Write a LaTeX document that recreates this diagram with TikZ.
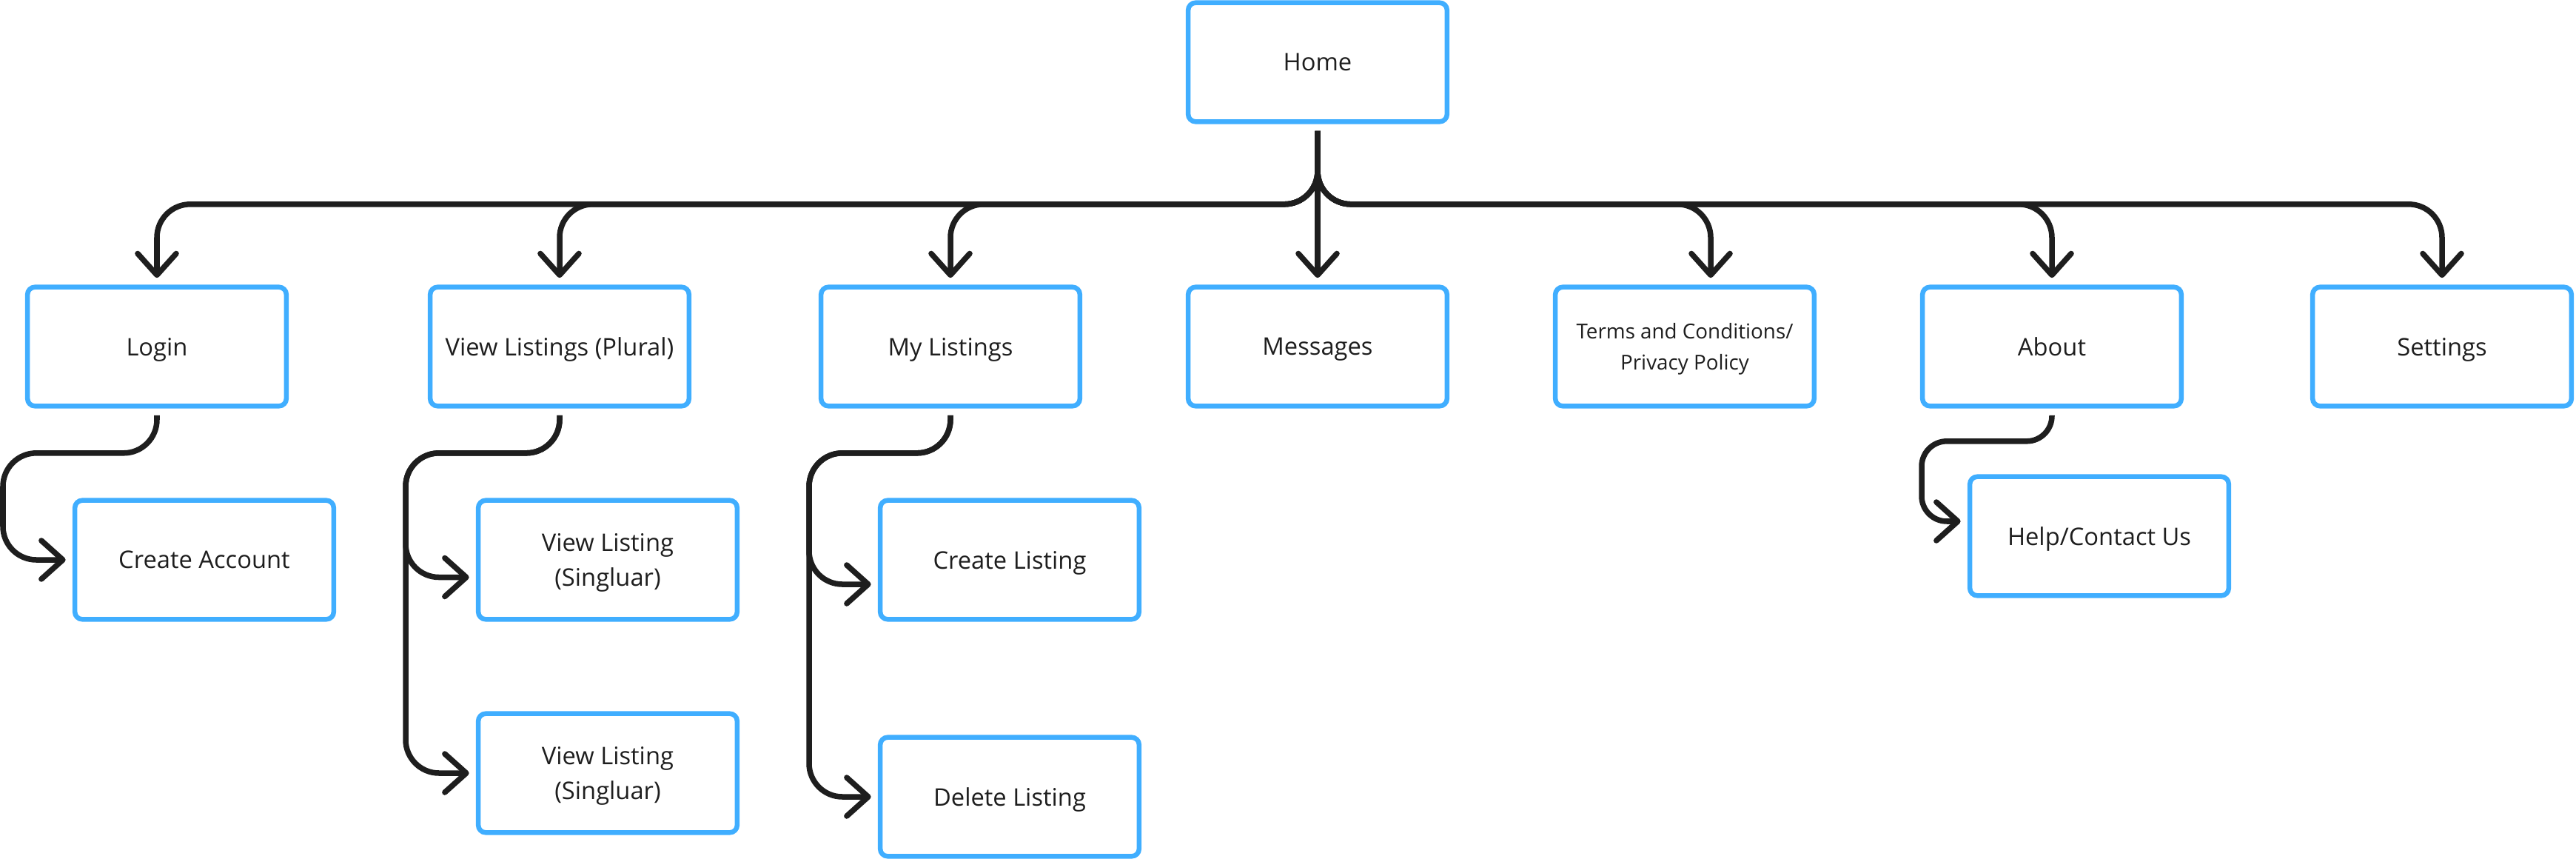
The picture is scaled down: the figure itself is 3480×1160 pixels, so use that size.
\documentclass[tikz,border=0pt]{standalone}
\usepackage{fontspec}
\setmainfont{Open Sans}
\usetikzlibrary{arrows.meta}
\definecolor{boxblue}{HTML}{40AEFF}
\definecolor{ink}{HTML}{1E1E1E}
\tikzset{
    page/.style={draw=boxblue,line width=.065cm,rounded corners=.1cm,minimum width=3.495cm,minimum height=1.605cm,
        inner sep=0pt,outer sep=.125cm,align=center,text=ink,text depth=0pt,font=\fontsize{9.3}{13.5}\selectfont},
    link/.style={draw=ink,line width=.075cm,rounded corners=.45cm,-{Straight Barb[length=.29cm,width=.52cm,round]}},
}
\begin{document}
\begin{tikzpicture}[x=0.01cm,y=-0.01cm]
            \useasboundingbox (0,0) rectangle (3480,1160);
            % Pages
            \node [page] (home) at (1780,84) {Home};
            \node [page] (login) at (212,468) {Login};
            \node [page] (viewall) at (756,468) {View Listings (Plural)};
            \node [page] (mylist) at (1284,468) {My Listings};
            \node [page] (msgs) at (1780,468) {Messages};
            \node [page,font=\fontsize{7.9}{11.8}\selectfont] (terms) at (2276,468) {Terms and Conditions/\\Privacy Policy};
            \node [page] (about) at (2772,468) {About};
            \node [page] (settings) at (3299,468) {Settings};
            \node [page] (newacc) at (276,756) {Create Account};
            \node [page] (view1) at (821,756) {View Listing\\(Singluar)};
            \node [page] (view2) at (821,1044) {View Listing\\(Singluar)};
            \node [page] (newlist) at (1364,756) {Create Listing};
            \node [page] (dellist) at (1364,1076) {Delete Listing};
            \node [page] (help) at (2836,724) {Help/Contact Us};

            % Links from home
            \draw [link] (home.south) -- ++(0,99) -| (login.north);
            \draw [link] (home.south) -- ++(0,99) -| (viewall.north);
            \draw [link] (home.south) -- ++(0,99) -| (mylist.north);
            \draw [link] (home.south) -- (msgs.north);
            \draw [link] (home.south) -- ++(0,99) -| ([xshift=.35cm]terms.north);
            \draw [link] (home.south) -- ++(0,99) -| (about.north);
            \draw [link] (home.south) -- ++(0,99) -| (settings.north);

            % Sub pages
            \draw [link] (login.south) |- ++(-208,51) |- (newacc.west);
            \draw [link] (viewall.south) |- ++(-208,51) |- ([yshift=-.235cm]view1.west);
            \draw [link] (viewall.south) |- ++(-208,51) |- (view2.west);
            \draw [link] (mylist.south) |- ++(-191,51) |- ([yshift=-.33cm]newlist.west);
            \draw [link] (mylist.south) |- ++(-191,51) |- (dellist.west);
            \draw [link,rounded corners=.34cm] (about.south) |- ++(-176,35) |- ([yshift=.2cm]help.west);
        \end{tikzpicture}
\end{document}
